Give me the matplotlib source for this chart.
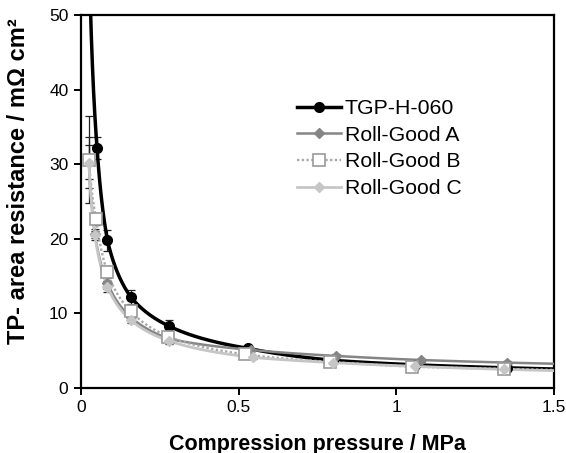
import numpy as np
import matplotlib
matplotlib.use("Agg")
import matplotlib.pyplot as plt

plt.rcParams['font.family'] = ['Liberation Sans', 'DejaVu Sans']

# Data (compression pressure in MPa, TP area resistance in mOhm cm2)
tgp_x = [0.025, 0.051, 0.084, 0.158, 0.279, 0.531, 0.80, 1.06, 1.35]
tgp_y = [60.0, 32.2, 19.8, 12.2, 8.3, 5.3, 3.7, 3.1, 2.7]
tgp_err = [4.0, 1.5, 1.4, 0.9, 0.8, 0.3, 0.2, 0.2, 0.2]

a_x = [0.025, 0.044, 0.084, 0.158, 0.279, 0.54, 0.809, 1.079, 1.352]
a_y = [30.3, 20.7, 14.1, 9.5, 6.6, 5.1, 4.3, 3.75, 3.4]
a_err = [2.3, 0.6, 0.8, 0.5, 0.4, 0.2, 0.2, 0.2, 0.2]

b_x = [0.025, 0.048, 0.084, 0.158, 0.277, 0.52, 0.79, 1.051, 1.342]
b_y = [30.6, 22.6, 15.5, 10.3, 6.9, 4.5, 3.5, 2.86, 2.55]
b_err = [5.8, 0.8, 0.8, 0.5, 0.5, 0.2, 0.2, 0.2, 0.2]

c_x = [0.025, 0.044, 0.084, 0.158, 0.28, 0.545, 0.80, 1.06, 1.34]
c_y = [30.2, 20.5, 13.6, 9.1, 6.3, 4.1, 3.4, 2.9, 2.5]
c_err = [3.4, 0.6, 0.7, 0.4, 0.4, 0.2, 0.2, 0.2, 0.2]

labels = ['TGP-H-060', 'Roll-Good A', 'Roll-Good B', 'Roll-Good C']


def smooth(x, y, xmax=1.5, n=400):
    lx = np.log(np.asarray(x))
    ly = np.log(np.asarray(y))
    xs = np.linspace(lx[0], np.log(xmax), n)
    ys = np.interp(xs, lx, ly)
    slope = (ly[-1] - ly[-2]) / (lx[-1] - lx[-2])
    m = xs > lx[-1]
    ys[m] = ly[-1] + slope * (xs[m] - lx[-1])
    return np.exp(xs), np.exp(ys)


fig = plt.figure(figsize=(5.66, 4.53), dpi=100)
ax = fig.add_axes([0.143, 0.1435, 0.836, 0.8235])

series = [
    (tgp_x, tgp_y, tgp_err, dict(color='black', lw=2.5, ls='-'),
     dict(marker='o', ms=7, mfc='black', mec='black')),
    (a_x, a_y, a_err, dict(color='#858585', lw=1.8, ls='-'),
     dict(marker='D', ms=5.5, mfc='#858585', mec='#858585')),
    (b_x, b_y, b_err, dict(color='#a8a8a8', lw=1.7, ls=(0, (1, 1))),
     dict(marker='s', ms=8.5, mfc='white', mec='#9a9a9a', mew=1.2)),
    (c_x, c_y, c_err, dict(color='#c6c6c6', lw=2.0, ls='-'),
     dict(marker='D', ms=5, mfc='#c6c6c6', mec='#c6c6c6')),
]

handles = []
for i, (x, y, e, lst, mst) in enumerate(series):
    ax.errorbar(x, y, yerr=e, fmt='none', ecolor='#222222', elinewidth=0.9,
                capsize=3, capthick=0.9, zorder=2 + i * 0.1)
    sx, sy = smooth(x, y)
    ax.plot(sx, sy, zorder=3 + i * 0.1, **lst)
    ax.plot(x, y, ls='none', zorder=4 + i * 0.1, **mst)
    h, = ax.plot([], [], label=labels[i], **lst, **mst)
    handles.append(h)

ax.set_xlim(0, 1.5)
ax.set_ylim(0, 50)
ax.set_xticks([0, 0.5, 1, 1.5])
ax.set_xticklabels(['0', '0.5', '1', '1.5'])
ax.set_yticks([0, 10, 20, 30, 40, 50])
for s in ax.spines.values():
    s.set_linewidth(1.6)
ax.tick_params(direction='out', length=5, width=1.4, labelsize=12.5, pad=4)

ax.set_xlabel('Compression pressure / MPa', fontsize=15.5, fontweight='bold')
ax.set_ylabel('TP- area resistance / mΩ cm²', fontsize=17, fontweight='bold')
ax.xaxis.set_label_coords(0.5, -0.122)
ax.yaxis.set_label_coords(-0.108, 0.555)

ax.legend(handles=handles, loc='center left', bbox_to_anchor=(0.525, 0.672),
          bbox_transform=fig.transFigure, frameon=False, fontsize=15.3,
          handlelength=2.05, handletextpad=0.2, labelspacing=0.36, borderaxespad=0,
          borderpad=0)

fig.savefig('out.png', dpi=100)
